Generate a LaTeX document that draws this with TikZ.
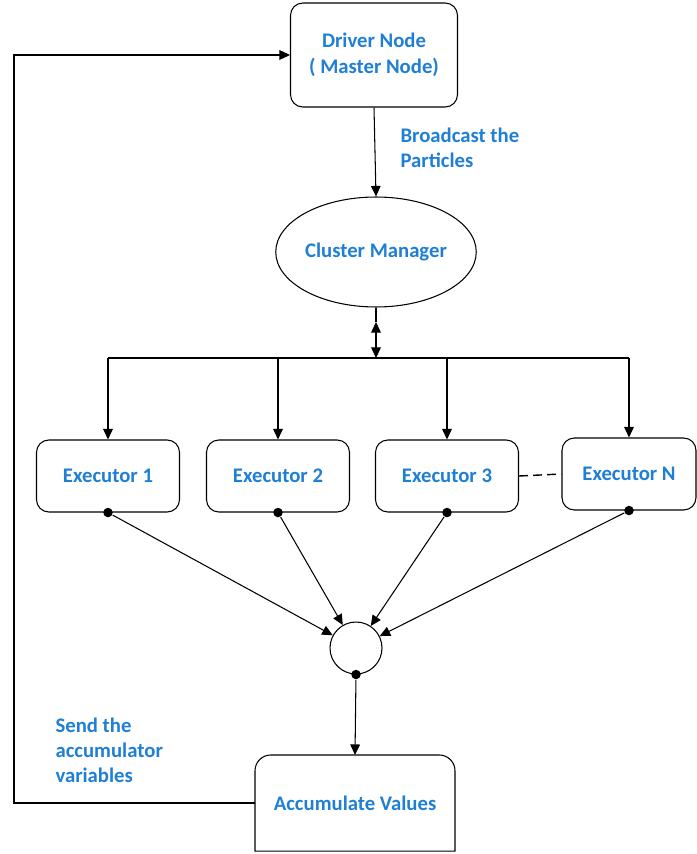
\documentclass[tikz,border=0pt]{standalone}
\usepackage{fontspec}
\setmainfont{Carlito}
\usepackage{tikz}
\usetikzlibrary{arrows.meta}
\usetikzlibrary{shapes.geometric}
\definecolor{txtblue}{HTML}{1F7FD4}

\begin{document}
\begin{tikzpicture}[x=0.02cm, y=-0.02cm, line width=0.6pt]
    \tikzstyle{lbl} = [text=txtblue, align=left, inner sep=0pt, font=\bfseries\fontsize{11.8}{14.2}\selectfont];
    \tikzstyle{box} = [draw, rounded corners=7pt, align=center, text=txtblue, minimum width=2.86cm, minimum height=1.44cm, font=\bfseries\fontsize{11.8}{14.8}\selectfont];
    \tikzstyle{ell} = [draw, ellipse, inner sep=0pt, text=txtblue, minimum width=3.96cm, minimum height=2.2cm, font=\bfseries\fontsize{11.8}{14.8}\selectfont];
    \tikzstyle{dot} = [fill=black, circle, inner sep=0pt, minimum size=0.19cm];
    \tikzstyle{arr} = [-{Triangle[length=6pt, width=5.5pt]}];
    \useasboundingbox (0,0) rectangle (696,854);

    \node (drv) at (374, 55) [box, minimum width=3.34cm, minimum height=2.08cm]{Driver Node\\( Master Node)};
    \node (cm)  at (376,252) [ell]{Cluster Manager};
    \node (e1)  at (108,476) [box]{Executor 1};
    \node (e2)  at (278,476) [box]{Executor 2};
    \node (e3)  at (447,476) [box]{Executor 3};
    \node (eN)  at (629,474) [box, minimum width=2.68cm]{Executor N};
    \node (sum) at (356,648) [draw, circle, inner sep=0pt, minimum size=1.04cm]{};
    \node (acc) at (355,803) [box, draw=none, minimum width=3.98cm, minimum height=1.9cm]{Accumulate Values};
    \node (bc)  at (400,148) [lbl, anchor=west]{Broadcast the\\Particles};
    \node (snd) at ( 55,750) [lbl, anchor=west]{Send the\\accumulator\\variables};

    \node (d1) at (e1.south)  [dot]{};
    \node (d2) at (e2.south)  [dot]{};
    \node (d3) at (e3.south)  [dot]{};
    \node (dN) at (eN.south)  [dot]{};
    \node (ds) at (sum.south) [dot]{};

    \coordinate (bus) at (376,358);
    \coordinate (cmtip) at (376,322);
    \coordinate (fb) at (14,803);
    \coordinate (b1) at (e1.north |- bus);
    \coordinate (b2) at (e2.north |- bus);
    \coordinate (b3) at (e3.north |- bus);
    \coordinate (bN) at (eN.north |- bus);

    % accumulate box: rounded only on top
    \draw (acc.south west) [rounded corners=9pt] -- (acc.north west) -- (acc.north east) [sharp corners] -- (acc.south east) -- cycle;

    \draw[arr] (drv.south) -- (cm.north);
    \draw (cm.south) -- (cmtip);
    \draw[{Triangle[length=6pt, width=5.5pt]}-{Triangle[length=6pt, width=5.5pt]}] (cmtip) -- (bus);
    \draw (b1) -- (bN);
    \draw[arr] (b1) -- (e1.north);
    \draw[arr] (b2) -- (e2.north);
    \draw[arr] (b3) -- (e3.north);
    \draw[arr] (bN) -- (eN.north);
    \draw[dash pattern=on 5pt off 3pt, line width=0.8pt] (e3.east) -- (eN.west);

    \draw[arr] (d1) -- (sum);
    \draw[arr] (d2) -- (sum);
    \draw[arr] (d3) -- (sum);
    \draw[arr] (dN) -- (sum);
    \draw[arr] (ds) -- (acc.north);
    \draw[arr] (acc.west) -- (fb) |- (drv.west);
\end{tikzpicture}
\end{document}
